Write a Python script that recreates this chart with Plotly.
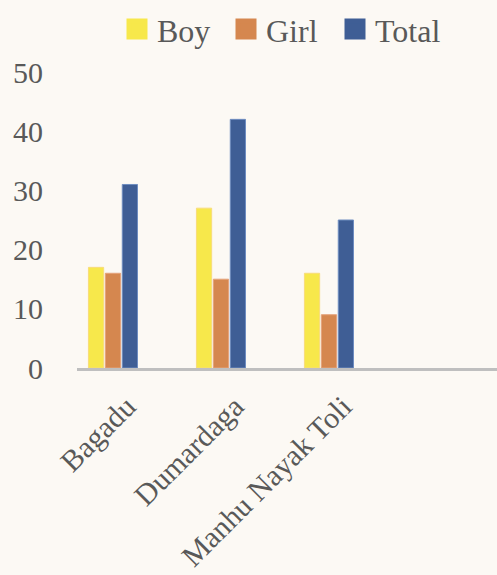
import plotly.graph_objects as go

categories = ["Bagadu", "Dumardaga", "Manhu Nayak Toli"]
boy = [17, 27, 16]
girl = [16, 15, 9]
total = [31, 42, 25]
series_names = ["Boy", "Girl", "Total"]
y_ticks = [0, 10, 20, 30, 40, 50]

colors = ["#f7e84b", "#d5874f", "#3f5e95"]
edge_colors = ["#f8dc7a", "#e5a27a", "#6f8dc0"]
FONT = "Liberation Serif"
TXT = "#595959"

fig = go.Figure()
for name, vals, c, ec in zip(series_names, [boy, girl, total], colors, edge_colors):
    fig.add_trace(go.Bar(
        x=categories, y=vals, name=name, showlegend=False,
        marker=dict(color=c, line=dict(color=ec, width=1)),
    ))
for name, c in zip(series_names, colors):
    fig.add_trace(go.Scatter(
        x=[None], y=[None], mode="markers", name=name,
        marker=dict(symbol="square", size=16, color=c, line=dict(color=c, width=5)),
    ))

fig.update_layout(
    width=497, height=575,
    paper_bgcolor="#fcf9f4", plot_bgcolor="#fcf9f4",
    margin=dict(l=77, r=0, t=72, b=207, autoexpand=False),
    barmode="group", bargap=0.53, bargroupgap=0.1,
    font=dict(family=FONT, color=TXT),
    legend=dict(
        orientation="h", x=117/497, xanchor="left", y=0.997, yanchor="top",
        xref="container", yref="container",
        font=dict(size=32, family=FONT, color=TXT),
        itemwidth=30, entrywidth=64, tracegroupgap=0, bgcolor="rgba(0,0,0,0)",
    ),
    xaxis=dict(
        type="category", range=[-0.333, 3.556],
        showline=True, linecolor="#bfbfbf", linewidth=3,
        showgrid=False, zeroline=False, ticks="",
        tickangle=-45, tickfont=dict(size=30, family=FONT, color=TXT),
        ticklabelshift=14, ticklabelstandoff=6,
    ),
    yaxis=dict(
        range=[0, 50], tickvals=y_ticks, showgrid=False, zeroline=False,
        showline=False, ticks="", ticklabelstandoff=33,
        tickfont=dict(size=30, family=FONT, color=TXT),
    ),
)
fig.write_html("out.html", config={"displayModeBar": False},
               post_script="document.body.style.margin='0';document.body.style.padding='0';")
